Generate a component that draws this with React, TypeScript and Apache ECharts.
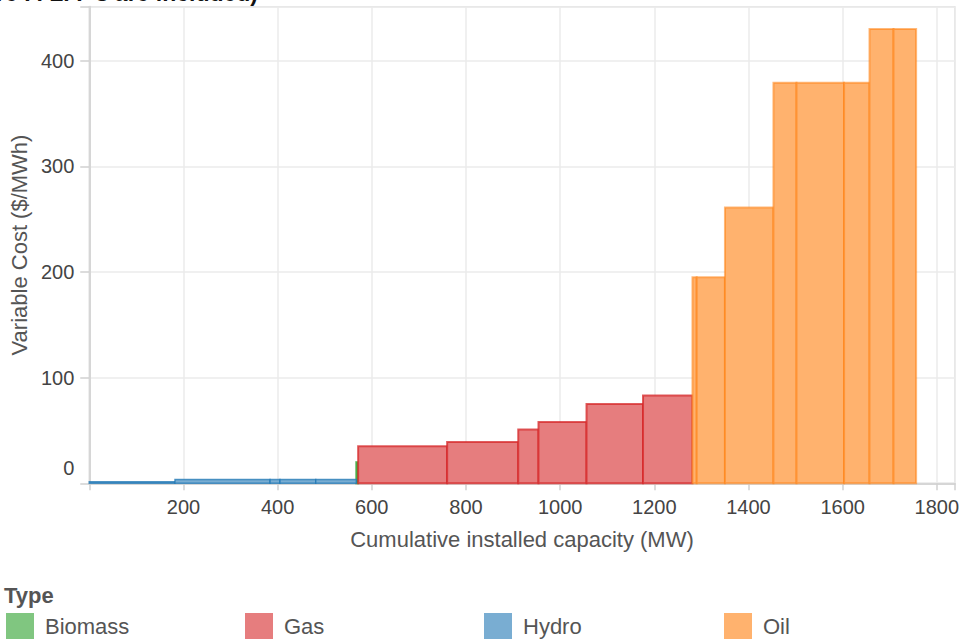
import React, { useEffect, useRef } from "react";
import * as echarts from "echarts";

// Units in merit order (capacity in MW, variable cost in $/MWh)
const unitTypes = [
  "Hydro", "Hydro", "Hydro", "Hydro", "Hydro",
  "Biomass",
  "Gas", "Gas", "Gas", "Gas", "Gas", "Gas",
  "Oil", "Oil", "Oil", "Oil", "Oil", "Oil", "Oil", "Oil",
];
const unitCapacity = [
  182, 202, 21, 76, 86,
  4,
  189, 151, 43, 102, 120, 105,
  9, 60, 103, 49, 101, 54, 51, 48,
];
const unitCost = [
  1.5, 3.5, 3.5, 3.5, 3.5,
  20,
  35, 39, 51, 58, 75, 83,
  195, 195, 261, 379, 379, 379, 430, 430,
];

const typeNames = ["Biomass", "Gas", "Hydro", "Oil"];
const typeColors: Record<string, string> = {
  Biomass: "#2ca02c",
  Gas: "#d62728",
  Hydro: "#1f77b4",
  Oil: "#ff7f0e",
};
const typeFills: Record<string, string> = {
  Biomass: "rgb(128,198,128)",
  Gas: "rgb(230,125,126)",
  Hydro: "rgb(121,173,210)",
  Oil: "rgb(255,178,110)",
};

const xTicksInterval = 200;
const yTicksInterval = 100;

const FONT = "'Liberation Sans', Arial, sans-serif";

export default function App() {
  const ref = useRef<HTMLDivElement>(null);

  useEffect(() => {
    if (!ref.current) return;
    const chart = echarts.init(ref.current, undefined, { renderer: "svg" });

    const rows: { type: string; start: number; end: number; cost: number }[] = [];
    let acc = 0;
    for (let i = 0; i < unitTypes.length; i++) {
      rows.push({ type: unitTypes[i], start: acc, end: acc + unitCapacity[i], cost: unitCost[i] });
      acc += unitCapacity[i];
    }

    const series = typeNames.map((t) => ({
      name: t,
      type: "custom",
      color: typeFills[t],
      encode: { x: [0, 1], y: 2 },
      data: rows.filter((r) => r.type === t).map((r) => [r.start, r.end, r.cost]),
      renderItem: (params: any, api: any) => {
        const p0 = api.coord([api.value(0), api.value(2)]);
        const p1 = api.coord([api.value(1), 0]);
        const thin = t === "Hydro";
        return {
          type: "rect",
          shape: { x: p0[0], y: p0[1], width: p1[0] - p0[0], height: p1[1] - p0[1] },
          style: {
            fill: typeFills[t],
            stroke: typeColors[t],
            lineWidth: thin ? 1.5 : 2,
            strokeOpacity: t === "Oil" ? 0.55 : 0.75,
          },
        };
      },
    }));

    const legendLefts = [6, 245, 484, 724];

    chart.setOption({
      animation: false,
      textStyle: { fontFamily: FONT },
      grid: {
        left: 85,
        right: 0,
        top: 6.7,
        bottom: 155.7,
        show: true,
        borderColor: "#dedede",
        borderWidth: 1.5,
      },
      graphic: [
        {
          type: "text",
          x: 258,
          y: 4,
          style: {
            text: "Supply curve (units where P. L. F's are included)",
            fontFamily: FONT,
            fontSize: 23,
            fontWeight: "bold",
            fill: "#111",
            textAlign: "right",
            textVerticalAlign: "bottom",
          },
        },
        {
          type: "text",
          x: 4,
          y: 595,
          style: {
            text: "Type",
            fontFamily: FONT,
            fontSize: 22,
            fontWeight: "bold",
            fill: "#555",
            textAlign: "left",
            textVerticalAlign: "middle",
          },
        },
      ],
      legend: typeNames.map((t, i) => ({
        data: [t],
        left: legendLefts[i],
        top: 613,
        padding: 0,
        icon: "rect",
        itemWidth: 28,
        itemHeight: 26,
        selectedMode: false,
        textStyle: { fontSize: 22, color: "#555", fontFamily: FONT, padding: [0, 0, 0, 6] },
      })),
      xAxis: {
        type: "value",
        min: 0,
        max: 1838,
        interval: xTicksInterval,
        name: "Cumulative installed capacity (MW)",
        nameLocation: "middle",
        nameGap: 45,
        nameTextStyle: { fontSize: 22, color: "#555", fontFamily: FONT },
        axisLine: { show: true, lineStyle: { color: "#d6d6d6", width: 2 } },
        axisTick: { show: true, length: 7, lineStyle: { color: "#d0d0d0", width: 1.5 } },
        axisLabel: {
          fontSize: 20,
          color: "#444",
          margin: 14,
          fontFamily: FONT,
          formatter: (v: number) => (v > 0 && v % xTicksInterval === 0 ? String(v) : ""),
        },
        splitLine: { show: true, lineStyle: { color: "#ebebeb", width: 1.5 } },
      },
      yAxis: {
        type: "value",
        min: 0,
        max: 451,
        interval: yTicksInterval,
        name: "Variable Cost ($/MWh)",
        nameLocation: "middle",
        nameGap: 47,
        nameTextStyle: { fontSize: 22, color: "#555", fontFamily: FONT },
        axisLine: { show: true, lineStyle: { color: "#d6d6d6", width: 2 } },
        axisTick: { show: true, length: 9, lineStyle: { color: "#d0d0d0", width: 1.5 } },
        axisLabel: {
          fontSize: 20,
          color: "#444",
          margin: 15,
          fontFamily: FONT,
          formatter: (v: number) =>
            v === 0 ? "{z|0}" : v % yTicksInterval === 0 ? String(v) : "",
          rich: { z: { fontSize: 20, color: "#444", fontFamily: FONT, padding: [0, 0, 30, 0] } },
        },
        splitLine: { show: true, lineStyle: { color: "#ebebeb", width: 1.5 } },
      },
      series,
    });

    return () => chart.dispose();
  }, []);

  return (
    <div
      ref={ref}
      style={{ position: "absolute", left: 0, top: 0, width: 962, height: 639, background: "#fff" }}
    />
  );
}
